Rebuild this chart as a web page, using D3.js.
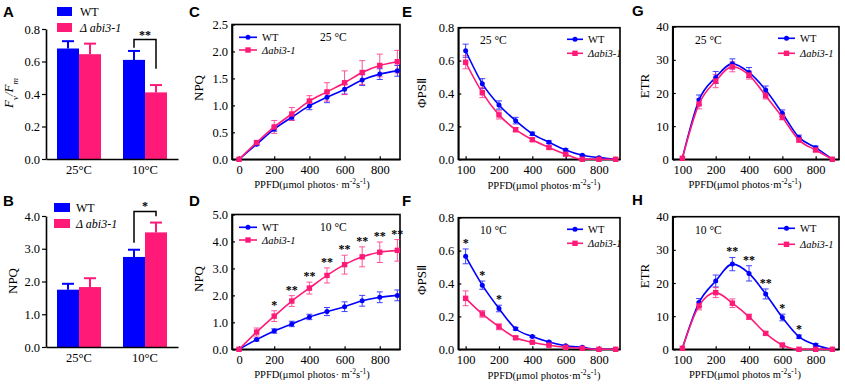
<!DOCTYPE html>
<html>
<head>
<meta charset="utf-8">
<script src="https://cdn.jsdelivr.net/npm/d3@7"></script>
<style>
body { margin: 0; background: #fff; }
svg { display: block; font-family: "Liberation Serif", "Times New Roman", serif; }
</style>
</head>
<body>
<div id="chart"></div>
<script>
// data
const barGroups = ["25°C", "10°C"];
const fvfmWT = [0.68, 0.61], fvfmWTErr = [0.045, 0.055];
const fvfmMut = [0.645, 0.41], fvfmMutErr = [0.065, 0.045];
const npqBarWT = [1.75, 2.75], npqBarWTErr = [0.18, 0.22];
const npqBarMut = [1.83, 3.5], npqBarMutErr = [0.27, 0.3];

const ppfdNPQ = [0, 100, 200, 300, 400, 500, 600, 700, 800, 900];
const npq25WT = [0, 0.28, 0.56, 0.78, 0.99, 1.15, 1.30, 1.47, 1.58, 1.64];
const npq25WTErr = [0, 0.02, 0.04, 0.05, 0.07, 0.1, 0.09, 0.1, 0.1, 0.1];
const npq25Mut = [0, 0.31, 0.60, 0.84, 1.08, 1.25, 1.42, 1.61, 1.74, 1.81];
const npq25MutErr = [0, 0.03, 0.12, 0.12, 0.1, 0.17, 0.22, 0.22, 0.21, 0.21];
const npq10WT = [0, 0.36, 0.68, 0.94, 1.20, 1.40, 1.58, 1.80, 1.93, 2.0];
const npq10WTErr = [0, 0.05, 0.08, 0.1, 0.1, 0.15, 0.18, 0.2, 0.2, 0.2];
const npq10Mut = [0, 0.64, 1.23, 1.79, 2.27, 2.74, 3.14, 3.43, 3.60, 3.67];
const npq10MutErr = [0, 0.15, 0.2, 0.2, 0.22, 0.28, 0.35, 0.37, 0.38, 0.4];
const npq10Sig = ["", "", "*", "**", "**", "**", "**", "**", "**", "**"];

const ppfdLevels = [100, 150, 200, 300, 400, 500, 600, 700, 800, 900];
const phi25WT = [0.66, 0.46, 0.33, 0.235, 0.155, 0.104, 0.057, 0.025, 0.01, 0];
const phi25WTErr = [0.04, 0.03, 0.025, 0.02, 0.01, 0.008, 0.006, 0.005, 0.004, 0];
const phi25Mut = [0.59, 0.405, 0.27, 0.18, 0.119, 0.072, 0.031, 0, 0, 0];
const phi25MutErr = [0.04, 0.03, 0.025, 0.012, 0.01, 0.008, 0.006, 0, 0, 0];
const phi10WT = [0.565, 0.39, 0.248, 0.125, 0.078, 0.045, 0.022, 0.012, 0, 0];
const phi10WTErr = [0.045, 0.025, 0.02, 0.008, 0.005, 0.004, 0.003, 0.002, 0, 0];
const phi10Mut = [0.31, 0.215, 0.137, 0.07, 0.043, 0.025, 0.012, 0.006, 0, 0];
const phi10MutErr = [0.045, 0.02, 0.018, 0.008, 0.005, 0.004, 0.003, 0, 0, 0];
const phi10Sig = ["*", "*", "*", "", "", "", "", "", "", ""];

const etr25WT = [0.3, 17.9, 24.7, 28.8, 26.2, 20.9, 13.9, 6.6, 3.5, 0];
const etr25WTErr = [0, 1.5, 1.8, 1.5, 1.5, 1.2, 1.0, 0.7, 0.5, 0];
const etr25Mut = [0.3, 16.7, 23.6, 27.9, 25.4, 19.2, 12.7, 5.8, 2.8, 0];
const etr25MutErr = [0, 1.5, 2.0, 1.5, 1.2, 1.0, 0.8, 0.6, 0.5, 0];
const etr10WT = [0.3, 14.1, 20.6, 25.7, 22.9, 16.7, 9.6, 3.8, 1.3, 0];
const etr10WTErr = [0, 1.2, 1.8, 2.0, 2.3, 1.5, 1.0, 0.5, 0.4, 0];
const etr10Mut = [0.3, 13.1, 17.1, 13.9, 9.8, 4.8, 1.3, 0, 0, 0];
const etr10MutErr = [0, 1.2, 1.5, 1.3, 0.8, 0.5, 0.3, 0, 0, 0];
const etr10Sig = ["", "", "", "**", "**", "**", "*", "*", "", ""];

const blue = "#0000ff", pink = "#ff1a78";
const serif = "Liberation Serif, Times New Roman, serif";

const svg = d3.select("#chart").append("svg")
  .attr("width", 845)
  .attr("height", 384);

function styleAxis(sel, size) {
  sel.attr("font-family", serif).attr("font-size", size || 12);
  sel.selectAll("text").attr("fill", "#000");
  sel.selectAll(".tick line").attr("stroke", "#000").attr("stroke-width", 1.2);
  sel.select(".domain").attr("stroke", "#000").attr("stroke-width", 1.6);
}

function letter(txt, x, y) {
  svg.append("text").attr("x", x).attr("y", y)
    .attr("font-family", "Liberation Sans, Arial, sans-serif")
    .attr("font-weight", "bold").attr("font-size", 15)
    .attr("fill", "#000")
    .text(txt);
}

function yTitle(x, y, build) {
  const t = svg.append("text")
    .attr("transform", `translate(${x},${y}) rotate(-90)`)
    .attr("text-anchor", "middle")
    .attr("font-size", 13).attr("fill", "#000");
  build(t);
}

function xTitle(x, y, sep) {
  const t = svg.append("text").attr("x", x).attr("y", y)
    .attr("text-anchor", "middle").attr("font-size", 10.5).attr("fill", "#000");
  t.append("tspan").text("PPFD(μmol photos" + sep + "m");
  t.append("tspan").attr("baseline-shift", "super").attr("font-size", 7.5).text("-2");
  t.append("tspan").text("s");
  t.append("tspan").attr("baseline-shift", "super").attr("font-size", 7.5).text("-1");
  t.append("tspan").text(")");
}

// ---------- bar panels ----------
function barPanel(p) {
  const g = svg.append("g");
  const x = d3.scaleBand().domain(barGroups).range([46, 178])
    .paddingInner(1 / 3).paddingOuter(1 / 6);
  const xs = d3.scaleBand().domain(["wt", "mut"]).range([0, x.bandwidth()]);
  const y = d3.scaleLinear().domain(p.yDomain).range([p.bottom, p.top]);

  const series = [
    { key: "wt", v: p.wt, e: p.wtErr, c: blue },
    { key: "mut", v: p.mut, e: p.mutErr, c: pink }
  ];
  series.forEach(s => {
    barGroups.forEach((grp, i) => {
      const bx = x(grp) + xs(s.key);
      const cx = bx + xs.bandwidth() / 2;
      g.append("line")
        .attr("x1", cx).attr("x2", cx)
        .attr("y1", y(s.v[i])).attr("y2", y(s.v[i] + s.e[i]))
        .attr("stroke", s.c).attr("stroke-width", 2);
      g.append("line")
        .attr("x1", cx - 6).attr("x2", cx + 6)
        .attr("y1", y(s.v[i] + s.e[i])).attr("y2", y(s.v[i] + s.e[i]))
        .attr("stroke", s.c).attr("stroke-width", 2);
      g.append("rect")
        .attr("x", bx).attr("width", xs.bandwidth())
        .attr("y", y(s.v[i])).attr("height", y(0) - y(s.v[i]))
        .attr("fill", s.c);
    });
  });

  g.append("g").attr("transform", `translate(46,0)`)
    .call(d3.axisLeft(y).tickValues(p.yTicks).tickFormat(d3.format(".1f"))
      .tickSizeInner(4).tickSizeOuter(0).tickPadding(2))
    .call(s => styleAxis(s, 12.5));
  g.append("g").attr("transform", `translate(0,${p.bottom})`)
    .call(d3.axisBottom(x).tickSize(0).tickPadding(6))
    .call(s => styleAxis(s, 12.5));

  // significance bracket between WT and mutant at 10°C
  const lx = x("10°C") + xs.bandwidth() * 0.5;
  const rx = x("10°C") + xs.bandwidth() * 1.5;
  const top = y(p.bracket[0]);
  g.append("path")
    .attr("d", `M${lx},${y(p.bracket[1])}V${top}H${rx}V${y(p.bracket[2])}`)
    .attr("fill", "none").attr("stroke", "#000").attr("stroke-width", 1.5);
  g.append("text").attr("x", (lx + rx) / 2).attr("y", top - 1)
    .attr("text-anchor", "middle").attr("font-size", 12).attr("font-weight", "bold")
    .attr("fill", "#000")
    .text(p.sig);

  // legend
  const lg = p.legend;
  g.append("rect").attr("x", lg.x).attr("y", lg.y).attr("width", lg.w).attr("height", 9).attr("fill", blue);
  g.append("rect").attr("x", lg.x).attr("y", lg.y + 16).attr("width", lg.w).attr("height", 9).attr("fill", pink);
  g.append("text").attr("x", lg.tx).attr("y", lg.y + 9).attr("font-size", 12).attr("fill", "#000").text("WT");
  g.append("text").attr("x", lg.tx).attr("y", lg.y + 25).attr("font-size", 12).attr("fill", "#000")
    .attr("font-style", "italic").text("Δ abi3-1");
}

barPanel({
  top: 29, bottom: 159, yDomain: [0, 0.8], yTicks: [0, 0.2, 0.4, 0.6, 0.8],
  wt: fvfmWT, wtErr: fvfmWTErr, mut: fvfmMut, mutErr: fvfmMutErr,
  bracket: [0.735, 0.685, 0.555], sig: "**",
  legend: { x: 57, y: 7, w: 15, tx: 80 }
});
barPanel({
  top: 216, bottom: 347, yDomain: [0, 4], yTicks: [0, 1, 2, 3, 4],
  wt: npqBarWT, wtErr: npqBarWTErr, mut: npqBarMut, mutErr: npqBarMutErr,
  bracket: [4.14, 3.18, 3.99], sig: "*",
  legend: { x: 54, y: 203, w: 16, tx: 76 }
});

// ---------- line panels ----------
function marker(g, cx, cy, s) {
  if (s.m === "circle") {
    g.append("circle").attr("cx", cx).attr("cy", cy).attr("r", 2.5).attr("fill", s.c);
  } else {
    g.append("rect").attr("x", cx - 2.7).attr("y", cy - 2.7)
      .attr("width", 5.4).attr("height", 5.4).attr("fill", s.c);
  }
}

function linePanel(p) {
  const g = svg.append("g");
  const x = d3.scaleLinear().domain(p.xDomain).range([p.left, p.right]);
  const y = d3.scaleLinear().domain(p.yDomain).range([p.bottom, p.top]);
  const xv = i => p.indexed ? i : p.levels[i];

  g.append("g").attr("transform", `translate(${p.left},0)`)
    .call(d3.axisLeft(y).tickValues(p.yTicks).tickFormat(p.yFormat)
      .tickSizeInner(-3).tickSizeOuter(0).tickPadding(4))
    .call(s => styleAxis(s, 12.5));
  g.append("g").attr("transform", `translate(0,${p.bottom})`)
    .call(d3.axisBottom(x).tickValues(p.xTicks)
      .tickFormat(p.indexed ? (i => p.levels[i]) : d3.format("d"))
      .tickSizeInner(-3).tickSizeOuter(0).tickPadding(6))
    .call(s => styleAxis(s, 12.5));
  g.append("rect")
    .attr("x", p.left).attr("y", p.top)
    .attr("width", p.right - p.left).attr("height", p.bottom - p.top)
    .attr("fill", "none").attr("stroke", "#000").attr("stroke-width", 1.6);

  const series = [
    { v: p.wt, e: p.wtErr, c: blue, m: "circle" },
    { v: p.mut, e: p.mutErr, c: pink, m: "square" }
  ];
  const line = d3.line().x((d, i) => x(xv(i))).y(d => y(d)).curve(d3.curveMonotoneX);

  series.forEach(s => {
    const eg = g.append("g").attr("stroke", s.c).attr("stroke-width", 1).attr("opacity", 0.75);
    s.v.forEach((v, i) => {
      if (!s.e[i]) return;
      const cx = x(xv(i));
      eg.append("line").attr("x1", cx).attr("x2", cx)
        .attr("y1", y(v - s.e[i])).attr("y2", y(v + s.e[i]));
      [v - s.e[i], v + s.e[i]].forEach(w => {
        eg.append("line").attr("x1", cx - 3).attr("x2", cx + 3)
          .attr("y1", y(w)).attr("y2", y(w));
      });
    });
  });
  series.forEach(s => {
    g.append("path").datum(s.v).attr("d", line)
      .attr("fill", "none").attr("stroke", s.c).attr("stroke-width", 1.6);
    s.v.forEach((v, i) => marker(g, x(xv(i)), y(v), s));
  });

  if (p.sig) {
    p.sig.forEach((t, i) => {
      if (!t) return;
      const ref = p.sigOn === "wt" ? series[0] : series[1];
      g.append("text").attr("x", x(xv(i))).attr("y", y(ref.v[i] + ref.e[i]) - 2)
        .attr("text-anchor", "middle").attr("font-size", 12).attr("font-weight", "bold")
        .attr("fill", "#000")
        .text(t);
    });
  }

  // legend
  const lg = p.legend;
  series.forEach((s, k) => {
    const ly = lg.y + k * lg.dy;
    g.append("line").attr("x1", lg.x).attr("x2", lg.x + lg.w)
      .attr("y1", ly).attr("y2", ly).attr("stroke", s.c).attr("stroke-width", 1.6);
    marker(g, lg.x + lg.w / 2, ly, s);
    g.append("text").attr("x", lg.x + lg.w + 5).attr("y", ly + 3.5)
      .attr("font-size", 10.5).attr("fill", "#000")
      .attr("font-style", k === 1 ? "italic" : null)
      .text(k === 0 ? "WT" : "Δabi3-1");
  });
  g.append("text").attr("x", p.temp[0]).attr("y", p.temp[1])
    .attr("font-size", 11.5).attr("fill", "#000").text(p.tempText);
}

const fmt1 = d3.format(".1f"), fmt0 = d3.format("d");

// C, D
const npqTicks = [0, 200, 400, 600, 800];
linePanel({
  left: 232, right: 400, top: 24.5, bottom: 159.3, xDomain: [-40, 915],
  levels: ppfdNPQ, xTicks: npqTicks, yDomain: [0, 2.5], yTicks: [0, 0.5, 1, 1.5, 2, 2.5], yFormat: fmt1,
  wt: npq25WT, wtErr: npq25WTErr, mut: npq25Mut, mutErr: npq25MutErr,
  legend: { x: 239, y: 37.3, dy: 12.7, w: 18 }, temp: [320, 41], tempText: "25 °C"
});
linePanel({
  left: 232, right: 400, top: 214.5, bottom: 349.3, xDomain: [-40, 915],
  levels: ppfdNPQ, xTicks: npqTicks, yDomain: [0, 5], yTicks: [0, 1, 2, 3, 4, 5], yFormat: fmt1,
  wt: npq10WT, wtErr: npq10WTErr, mut: npq10Mut, mutErr: npq10MutErr,
  sig: npq10Sig, sigOn: "mut",
  legend: { x: 239, y: 227.3, dy: 12.7, w: 18 }, temp: [320, 231], tempText: "10 °C"
});

// E, F
const idxTicks = [0, 2, 4, 6, 8];
linePanel({
  left: 458.3, right: 620, top: 27.7, bottom: 159.3, xDomain: [-0.44, 9.26], indexed: true,
  levels: ppfdLevels, xTicks: idxTicks, yDomain: [0, 0.8], yTicks: [0, 0.2, 0.4, 0.6, 0.8], yFormat: fmt1,
  wt: phi25WT, wtErr: phi25WTErr, mut: phi25Mut, mutErr: phi25MutErr,
  legend: { x: 567, y: 39.3, dy: 14, w: 16 }, temp: [480, 44], tempText: "25 °C"
});
linePanel({
  left: 458.3, right: 620, top: 217.7, bottom: 349.3, xDomain: [-0.44, 9.26], indexed: true,
  levels: ppfdLevels, xTicks: idxTicks, yDomain: [0, 0.8], yTicks: [0, 0.2, 0.4, 0.6, 0.8], yFormat: fmt1,
  wt: phi10WT, wtErr: phi10WTErr, mut: phi10Mut, mutErr: phi10MutErr,
  sig: phi10Sig, sigOn: "wt",
  legend: { x: 567, y: 229.3, dy: 14, w: 16 }, temp: [480, 234], tempText: "10 °C"
});

// G, H
linePanel({
  left: 672.7, right: 839, top: 26.7, bottom: 159.3, xDomain: [-0.58, 9.4], indexed: true,
  levels: ppfdLevels, xTicks: idxTicks, yDomain: [0, 40], yTicks: [0, 10, 20, 30, 40], yFormat: fmt0,
  wt: etr25WT, wtErr: etr25WTErr, mut: etr25Mut, mutErr: etr25MutErr,
  legend: { x: 778, y: 38.3, dy: 15, w: 17 }, temp: [695, 44], tempText: "25 °C"
});
linePanel({
  left: 672.7, right: 839, top: 216.7, bottom: 349.3, xDomain: [-0.58, 9.4], indexed: true,
  levels: ppfdLevels, xTicks: idxTicks, yDomain: [0, 40], yTicks: [0, 10, 20, 30, 40], yFormat: fmt0,
  wt: etr10WT, wtErr: etr10WTErr, mut: etr10Mut, mutErr: etr10MutErr,
  sig: etr10Sig, sigOn: "wt",
  legend: { x: 778, y: 228.3, dy: 16, w: 17 }, temp: [695, 234], tempText: "10 °C"
});

// titles and panel letters
yTitle(13, 93, t => {
  t.append("tspan").attr("font-style", "italic").text("F");
  t.append("tspan").attr("font-style", "italic").attr("baseline-shift", "sub").attr("font-size", 9).text("v");
  t.append("tspan").attr("font-style", "italic").text("/F");
  t.append("tspan").attr("font-style", "italic").attr("baseline-shift", "sub").attr("font-size", 9).text("m");
});
yTitle(17, 281, t => t.text("NPQ"));
yTitle(203, 88, t => t.text("NPQ"));
yTitle(203, 279, t => t.text("NPQ"));
yTitle(426, 93, t => t.text("ΦPSⅡ"));
yTitle(426, 280, t => t.text("ΦPSⅡ"));
yTitle(649, 86, t => t.text("ETR"));
yTitle(649, 276, t => t.text("ETR"));

xTitle(312, 188, "· ");
xTitle(312, 378, "· ");
xTitle(544, 189, "·");
xTitle(544, 379, "·");
xTitle(745, 188, "·");
xTitle(745, 378, " ");

letter("A", 3, 17);
letter("B", 3, 206);
letter("C", 189, 17);
letter("D", 189, 206);
letter("E", 402, 17);
letter("F", 402, 206);
letter("G", 632, 16);
letter("H", 632, 205);
</script>
</body>
</html>
